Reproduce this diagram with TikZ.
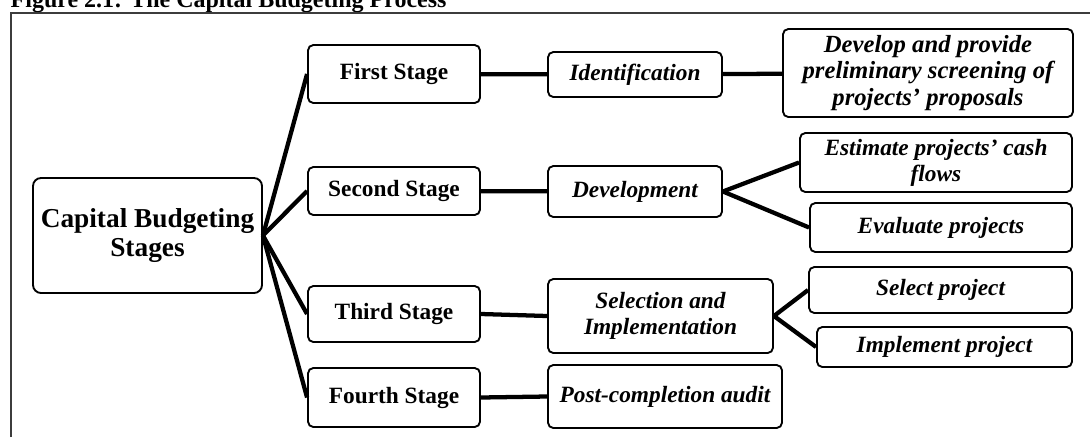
\documentclass[tikz,border=0pt]{standalone}
\usepackage{fontspec}
\setmainfont{Liberation Serif}
\usepackage{tikz}
\usetikzlibrary{positioning}
\definecolor{frameline}{RGB}{60,60,60}

\begin{document}
\begin{tikzpicture}[x=0.75pt, y=-0.75pt,
    rootbox/.style={draw, rounded corners=6pt, align=center, inner sep=0pt, line width=1.4pt,
                    minimum width=171.75pt, minimum height=86.25pt,
                    font=\bfseries\fontsize{20.5}{21.5}\selectfont},
    stagebox/.style={draw, rounded corners=4pt, align=center, inner sep=0pt, line width=1.4pt,
                     minimum width=129pt, font=\bfseries\fontsize{17.5}{20}\selectfont},
    taskbox/.style={draw, rounded corners=4pt, align=center, inner sep=0pt, line width=1.4pt,
                    font=\bfseries\itshape\fontsize{17.5}{19.5}\selectfont},
    link/.style={line width=3.2pt}
]
\useasboundingbox (0,0) rectangle (1090,437);
% frame and caption
\node[anchor=base west, font=\bfseries\fontsize{18}{20}\selectfont] (title) at (6,7)
    {Figure 2.1: The Capital Budgeting Process};
\draw[frameline, line width=1.5pt] (11,437) -- (11,13) -- (1090,13);

\node[rootbox] (cap) at (147.5,235.5) {Capital Budgeting\\Stages};

\node[stagebox, minimum height=43.5pt]  (first)  at (394,74)    {First Stage};
\node[stagebox, minimum height=36pt]    (second) at (394,191)   {Second Stage};
\node[stagebox, minimum height=42pt]    (third)  at (394,314)   {Third Stage};
\node[stagebox, minimum height=44.25pt] (fourth) at (394,397.5) {Fourth Stage};

\node[taskbox, minimum width=130.5pt, minimum height=33.75pt]  (ident)  at (635,74.5)   {Identification};
\node[taskbox, minimum width=130.5pt, minimum height=38.25pt]  (devel)  at (635,191.5)  {Development};
\node[taskbox, minimum width=168.75pt, minimum height=55.5pt]  (selimp) at (660.5,316)  {Selection and\\Implementation};
\node[taskbox, minimum width=175.5pt, minimum height=47.25pt]  (post)   at (665,396.5)  {Post-completion audit};

\node[taskbox, minimum width=217.5pt, minimum height=66pt, font=\bfseries\itshape\fontsize{18.5}{20}\selectfont]
    (screen) at (928,73) {Develop and provide\\preliminary screening of\\projects' proposals};
\node[taskbox, minimum width=204pt, minimum height=44.25pt]    (estim)  at (936,162.5)  {Estimate projects' cash\\flows};
\node[taskbox, minimum width=196.5pt, minimum height=36.75pt]  (evalu)  at (941,227.5)  {Evaluate projects};
\node[taskbox, minimum width=197.25pt, minimum height=34.5pt]  (select) at (940.5,290)  {Select project};
\node[taskbox, minimum width=191.25pt, minimum height=30pt]    (implem) at (944.5,347)  {Implement project};

\draw[link] (cap.east) -- (first.west);
\draw[link] (cap.east) -- (second.west);
\draw[link] (cap.east) -- (third.west);
\draw[link] (cap.east) -- (fourth.west);
\draw[link] (first) -- (ident);
\draw[link] (second) -- (devel);
\draw[link] (third.east) -- (selimp.west);
\draw[link] (fourth.east) -- (post.west);
\draw[link] (ident) -- (screen);
\draw[link] (devel.east) -- (estim.west);
\draw[link] (devel.east) -- (evalu.west);
\draw[link] (selimp.east) -- (select.west);
\draw[link] (selimp.east) -- (implem.west);
\end{tikzpicture}
\end{document}
